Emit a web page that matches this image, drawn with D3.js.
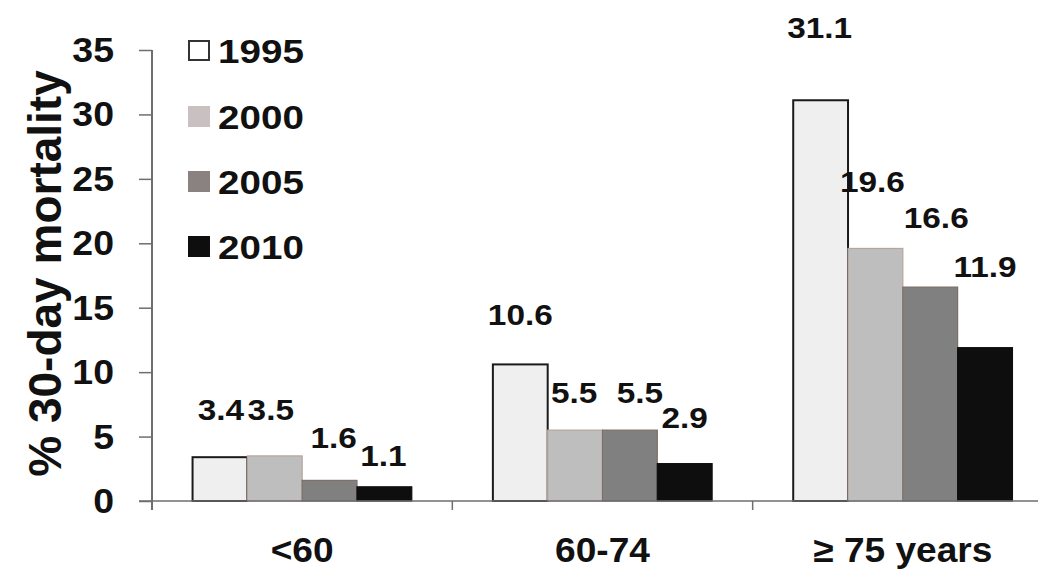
<!DOCTYPE html>
<html>
<head>
<meta charset="utf-8">
<script src="https://cdn.jsdelivr.net/npm/d3@7/dist/d3.min.js"></script>
<style>
  html, body { margin: 0; padding: 0; background: #ffffff; }
  svg { display: block; }
  text { font-family: "Liberation Sans", Arial, sans-serif; font-weight: bold; fill: #111; }
</style>
</head>
<body>
<svg id="chart" width="1038" height="569"></svg>
<script>
// Age groups and survey years
const ageGroups = ["<60", "60-74", "\u2265 75 years"];
const years = ["1995", "2000", "2005", "2010"];

// 30-day mortality (%) per year, one value per age group
const mort1995 = [3.4, 10.6, 31.1];
const mort2000 = [3.5, 5.5, 19.6];
const mort2005 = [1.6, 5.5, 16.6];
const mort2010 = [1.1, 2.9, 11.9];

const yTicks = [0, 5, 10, 15, 20, 25, 30, 35];

// Hand-placed value labels: lift above bar top and sideways nudge (px)
const labelLift = [
  [37, 39, 62],
  [36, 27, 56],
  [32, 27, 59],
  [21, 36, 71]
];
const labelNudge = [
  [1, 0, -1],
  [-4, -1, -3],
  [4, 10, 6],
  [-1, 0, 0]
];

const seriesValues = [mort1995, mort2000, mort2005, mort2010];
const barFill = ["#efefef", "#bebebe", "#808080", "#0e0e0e"];
const barStroke = ["#1a1a1a", "#b8a49c", "#7d6f68", "#0e0e0e"];
const legendFill = ["#ffffff", "#c9c1c1", "#8a8181", "#0e0e0e"];
const legendStroke = ["#333333", "#c9c1c1", "#8a8181", "#0e0e0e"];

const svg = d3.select("#chart");

const plotLeft = 152, plotBottom = 501, plotTop = 50;
const catStep = 300.33;

const x = d3.scaleBand()
  .domain(ageGroups)
  .range([plotLeft, plotLeft + catStep * ageGroups.length])
  .paddingInner(0).paddingOuter(0);

const xInner = d3.scaleBand()
  .domain(years)
  .range([0, x.bandwidth()])
  .paddingInner(0).paddingOuter(0.74);

const y = d3.scaleLinear().domain([0, 35]).range([plotBottom, plotTop]);

// Draws horizontally widened bold text
function stretchedText(g, str, px, py, size, sx, anchor) {
  return g.append("text")
    .attr("transform", `translate(${px},${py}) scale(${sx},1)`)
    .attr("text-anchor", anchor || "middle")
    .style("font-size", size + "px")
    .text(str);
}

// Bars
years.forEach((yr, si) => {
  svg.append("g").selectAll("rect")
    .data(seriesValues[si])
    .join("rect")
    .attr("x", (d, gi) => x(ageGroups[gi]) + xInner(yr))
    .attr("y", d => y(d))
    .attr("width", xInner.bandwidth())
    .attr("height", d => y(0) - y(d))
    .attr("fill", barFill[si])
    .attr("stroke", barStroke[si])
    .attr("stroke-width", si === 0 ? 2 : 1.2);
});

// Axes
const axisColor = "#6e6e6e";
const yAxis = svg.append("g").attr("transform", `translate(${plotLeft},0)`)
  .call(d3.axisLeft(y).tickValues(yTicks).tickSize(13).tickFormat(""));
yAxis.select(".domain").remove();
yAxis.selectAll("line").attr("stroke", axisColor).attr("stroke-width", 1.5);
svg.append("line")
  .attr("x1", plotLeft).attr("x2", plotLeft)
  .attr("y1", y(35)).attr("y2", plotBottom + 9)
  .attr("stroke", axisColor).attr("stroke-width", 2);

svg.append("line")
  .attr("x1", plotLeft - 13).attr("x2", 1038)
  .attr("y1", plotBottom).attr("y2", plotBottom)
  .attr("stroke", axisColor).attr("stroke-width", 1.5);

// Category boundary ticks
ageGroups.slice(1).forEach(c => {
  svg.append("line")
    .attr("x1", x(c)).attr("x2", x(c))
    .attr("y1", plotBottom).attr("y2", plotBottom + 9)
    .attr("stroke", axisColor).attr("stroke-width", 1.5);
});

// Y tick labels
yTicks.forEach(t => {
  stretchedText(svg, String(t), 114, y(t) + 12, 35, 1.07, "end");
});

// Y axis title
svg.append("text")
  .attr("transform", `translate(61,${(y(0) + y(35)) / 2 - 2}) rotate(-90)`)
  .attr("text-anchor", "middle")
  .style("font-size", "46px")
  .text("% 30-day mortality");

// Category labels
ageGroups.forEach(c => {
  stretchedText(svg, c, x(c) + x.bandwidth() / 2, 562, 35, 1.06, "middle");
});

// Value labels
years.forEach((yr, si) => {
  seriesValues[si].forEach((v, gi) => {
    const cx = x(ageGroups[gi]) + xInner(yr) + xInner.bandwidth() / 2 + labelNudge[si][gi];
    stretchedText(svg, v.toFixed(1), cx, y(v) - labelLift[si][gi], 29, 1.15, "middle");
  });
});

// Legend
const legendRows = [51, 117, 182, 247];
years.forEach((yr, si) => {
  const cy = legendRows[si];
  svg.append("rect")
    .attr("x", 189).attr("y", cy - 10)
    .attr("width", 20).attr("height", 19)
    .attr("fill", legendFill[si])
    .attr("stroke", legendStroke[si])
    .attr("stroke-width", 2);
  stretchedText(svg, yr, 218, cy + 12, 33, 1.17, "start");
});
</script>
</body>
</html>
